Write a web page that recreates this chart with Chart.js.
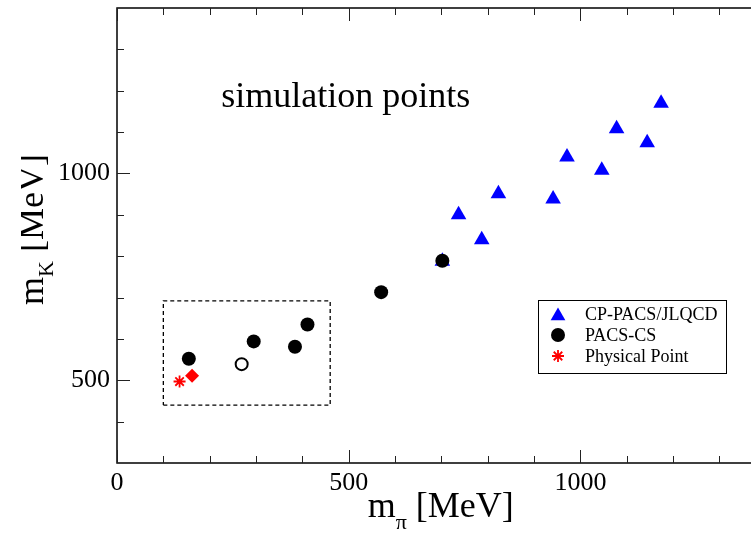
<!DOCTYPE html>
<html><head><meta charset="utf-8">
<script src="https://cdn.jsdelivr.net/npm/chart.js@4/dist/chart.umd.min.js"></script>
<style>html,body{margin:0;padding:0;background:#fff;overflow:hidden}#wrap{width:751px;height:536px;position:relative}</style>
</head><body><div id="wrap"><canvas id="c" width="751" height="536"></canvas></div>
<script>
// ---- data ----
const cpPacsMpi = [702, 737, 787, 823, 941, 971, 1046, 1078, 1144, 1174];
const cpPacsMk  = [788, 900, 840, 951, 938, 1040, 1008, 1108, 1074, 1170];
const pacsCsMpi = [155, 295, 384, 411, 570, 702];
const pacsCsMk  = [552, 594, 581, 635, 713, 789];
const openMpi = [269];
const openMk  = [539];
const diamondMpi = [162];
const diamondMk  = [511];
const physMpi = [135];
const physMk  = [497];
const boxMpi = [100, 460, 460, 100, 100];
const boxMk  = [440, 440, 692, 692, 440];
const xTickLabels = [0, 500, 1000];
const yTickLabels = [500, 1000];
const xMinorTicks = [100, 200, 300, 400, 600, 700, 800, 900, 1100, 1200, 1300];
const yMinorTicks = [400, 600, 700, 800, 900, 1100, 1200, 1300];
const legendLabels = ['CP-PACS/JLQCD', 'PACS-CS', 'Physical Point'];
const annotationText = 'simulation points';

const pts = (xs, ys) => xs.map((x, i) => ({x: x, y: ys[i]}));
const SERIF = '"Liberation Serif", "DejaVu Serif", serif';

const decor = {
  id: 'decor',
  afterDraw(chart) {
    const ctx = chart.ctx, a = chart.chartArea;
    const xs = chart.scales.x, ys = chart.scales.y;
    ctx.save();
    // frame
    ctx.strokeStyle = '#000';
    ctx.lineWidth = 1.5;
    ctx.beginPath();
    ctx.moveTo(a.right + 2, a.top); ctx.lineTo(a.left, a.top);
    ctx.lineTo(a.left, a.bottom); ctx.lineTo(a.right + 2, a.bottom);
    ctx.stroke();
    // inward ticks
    ctx.lineWidth = 1;
    ctx.strokeStyle = '#222';
    ctx.beginPath();
    const xt = (v, len) => { const p = Math.round(xs.getPixelForValue(v)) + 0.5;
      ctx.moveTo(p, a.bottom); ctx.lineTo(p, a.bottom - len);
      ctx.moveTo(p, a.top); ctx.lineTo(p, a.top + len); };
    const yt = (v, len) => { const p = Math.round(ys.getPixelForValue(v)) + 0.5;
      ctx.moveTo(a.left, p); ctx.lineTo(a.left + len, p); };
    xTickLabels.forEach(v => xt(v, 13));
    xMinorTicks.forEach(v => xt(v, 7));
    yTickLabels.forEach(v => yt(v, 13));
    yMinorTicks.forEach(v => yt(v, 7));
    ctx.stroke();

    // annotation text
    ctx.fillStyle = '#000';
    ctx.font = '36px ' + SERIF;
    ctx.textBaseline = 'alphabetic';
    ctx.textAlign = 'left';
    ctx.fillText(annotationText, xs.getPixelForValue(225), ys.getPixelForValue(1161));

    // x title: m_pi [MeV]
    let tx = xs.getPixelForValue(541), ty = a.bottom + 54;
    ctx.font = '36px ' + SERIF;
    ctx.fillText('m', tx, ty);
    tx += ctx.measureText('m').width;
    ctx.font = '22px ' + SERIF;
    ctx.fillText('π', tx, ty + 12);
    tx += ctx.measureText('π').width;
    ctx.font = '36px ' + SERIF;
    ctx.fillText(' [MeV]', tx, ty);

    // y title: m_K [MeV], rotated (left edge clipped as in the original)
    ctx.save();
    ctx.beginPath(); ctx.rect(21, 0, 200, 536); ctx.clip();
    const cy = (a.top + a.bottom) / 2 - 6;
    ctx.translate(43, cy);
    ctx.rotate(-Math.PI / 2);
    ctx.font = '36px ' + SERIF;
    const w1 = ctx.measureText('m').width;
    ctx.font = '22px ' + SERIF;
    const w2 = ctx.measureText('K').width;
    ctx.font = '36px ' + SERIF;
    const w3 = ctx.measureText(' [MeV]').width;
    let sx = -(w1 + w2 + w3) / 2;
    ctx.fillText('m', sx, 0); sx += w1;
    ctx.font = '22px ' + SERIF;
    ctx.fillText('K', sx, 10); sx += w2;
    ctx.font = '36px ' + SERIF;
    ctx.fillText(' [MeV]', sx, 0);
    ctx.restore();

    // legend
    const lx = 538, ly = 300, lw = 188, lh = 73;
    ctx.fillStyle = '#fff';
    ctx.fillRect(lx, ly, lw, lh);
    ctx.strokeStyle = '#000';
    ctx.lineWidth = 1;
    ctx.strokeRect(lx + 0.5, ly + 0.5, lw, lh);
    const rows = [314, 335, 356];
    const mx = 558;
    ctx.fillStyle = '#0000ff';
    ctx.beginPath();
    const r = 8.5, yT = rows[0] + 2;
    ctx.moveTo(mx, yT - r);
    ctx.lineTo(mx + r * Math.sin(2 * Math.PI / 3), yT - r * Math.cos(2 * Math.PI / 3));
    ctx.lineTo(mx + r * Math.sin(4 * Math.PI / 3), yT - r * Math.cos(4 * Math.PI / 3));
    ctx.closePath(); ctx.fill();
    ctx.fillStyle = '#000';
    ctx.beginPath(); ctx.arc(mx, rows[1], 7, 0, Math.PI * 2); ctx.fill();
    ctx.strokeStyle = '#ff0000'; ctx.lineWidth = 1.8;
    ctx.beginPath();
    const s = 6;
    for (let k = 0; k < 4; k++) {
      const ang = k * Math.PI / 4;
      ctx.moveTo(mx - s * Math.cos(ang), rows[2] - s * Math.sin(ang));
      ctx.lineTo(mx + s * Math.cos(ang), rows[2] + s * Math.sin(ang));
    }
    ctx.stroke();
    ctx.fillStyle = '#000';
    ctx.font = '18px ' + SERIF;
    ctx.textBaseline = 'middle';
    legendLabels.forEach((t, i) => ctx.fillText(t, 585, rows[i] + 1));
    ctx.restore();
  }
};

new Chart(document.getElementById('c'), {
  type: 'scatter',
  data: {
    datasets: [
      { label: legendLabels[0], data: pts(cpPacsMpi, cpPacsMk), order: 3,
        pointStyle: 'triangle', pointRadius: 9, backgroundColor: '#0000ff', borderWidth: 0 },
      { label: 'box', data: pts(boxMpi, boxMk), order: 4, showLine: true,
        borderColor: '#000', borderWidth: 1.3, borderDash: [4, 3], pointRadius: 0, fill: false },
      { label: legendLabels[1], data: pts(pacsCsMpi, pacsCsMk), order: 1,
        pointStyle: 'circle', pointRadius: 7, backgroundColor: '#000', borderWidth: 0 },
      { label: 'open', data: pts(openMpi, openMk), order: 1,
        pointStyle: 'circle', pointRadius: 6, backgroundColor: '#fff', borderColor: '#000', borderWidth: 2 },
      { label: 'diamond', data: pts(diamondMpi, diamondMk), order: 1,
        pointStyle: 'rectRot', pointRadius: 7, backgroundColor: '#ff0000', borderWidth: 0 },
      { label: legendLabels[2], data: pts(physMpi, physMk), order: 1,
        pointStyle: 'star', pointRadius: 6, borderColor: '#ff0000', borderWidth: 1.8, backgroundColor: '#ff0000' }
    ]
  },
  options: {
    responsive: false,
    animation: false,
    devicePixelRatio: 1,
    layout: { autoPadding: false, padding: { top: 8, right: 0, left: 0, bottom: 0 } },
    plugins: { legend: { display: false }, tooltip: { enabled: false } },
    scales: {
      x: {
        type: 'linear', min: 0, max: 1368,
        afterBuildTicks: s => { s.ticks = xTickLabels.map(v => ({ value: v })); },
        afterFit: s => { s.height = 73; s.paddingLeft = 0; s.paddingRight = 0; },
        grid: { display: false, drawTicks: false },
        border: { display: false },
        ticks: { color: '#000', padding: 5, maxRotation: 0, font: { family: SERIF, size: 26 },
                 callback: v => String(v) }
      },
      y: {
        type: 'linear', min: 300, max: 1400,
        afterBuildTicks: s => { s.ticks = yTickLabels.map(v => ({ value: v })); },
        afterFit: s => { s.width = 117; s.paddingTop = 0; s.paddingBottom = 0; },
        grid: { display: false, drawTicks: false },
        border: { display: false },
        ticks: { color: '#000', padding: 7, font: { family: SERIF, size: 26 },
                 callback: v => String(v) }
      }
    }
  },
  plugins: [decor]
});
</script></body></html>
